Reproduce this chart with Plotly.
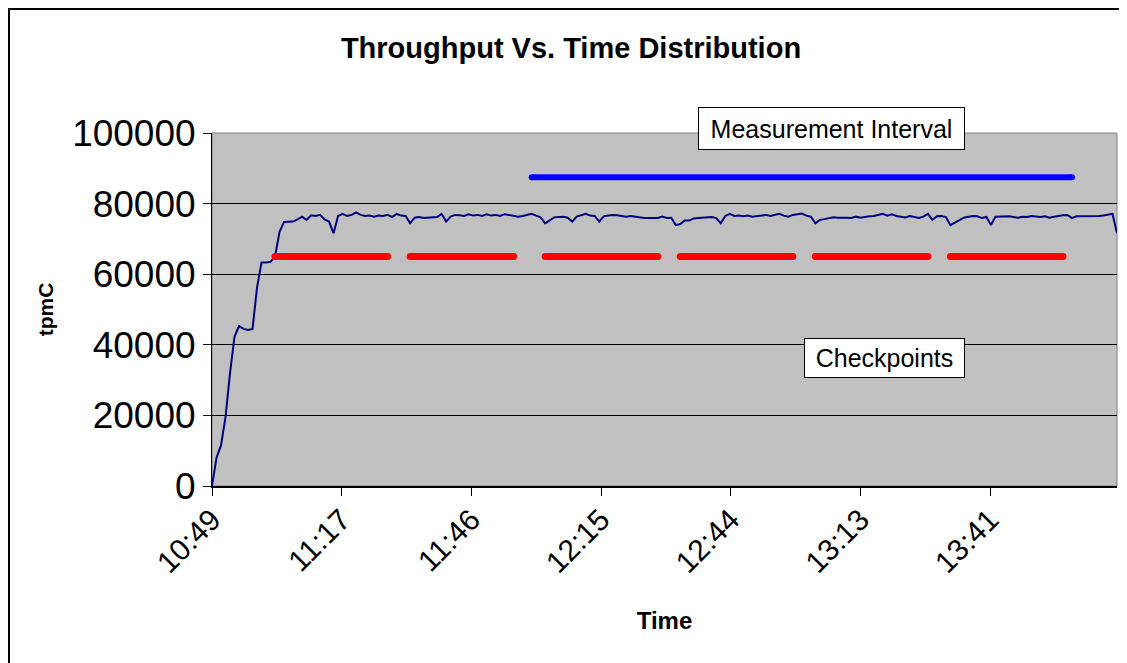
import datetime as dt
import plotly.graph_objects as go

# ---------------- data ----------------
start_time = "10:49"
# tpmC sampled every minute from 10:49
tpmc = [
    0, 8000, 11500, 19500, 32000, 42300, 45300, 44500, 44200, 44500,
    56200, 63300, 63300, 63500, 65000, 72000, 74800, 74900, 74900, 75500,
    76300, 75400, 76700, 76500, 76800, 75500, 74900, 71600, 76500, 77100,
    76500, 76800, 77500, 76800, 76500, 76600, 76300, 76600, 76500, 76800,
    76200, 77100, 76600, 76500, 74400, 76000, 76200, 75900, 76000, 75900,
    76200, 77100, 74900, 76300, 76800, 76700, 76500, 77000, 76600, 76800,
    76500, 77000, 76600, 76800, 76500, 77000, 76800, 76500, 76300, 76500,
    76800, 77100, 76600, 76100, 74400, 75200, 76100, 76200, 76300, 76000,
    74900, 76300, 76800, 77100, 76600, 76500, 74900, 76400, 76600, 76800,
    76700, 76400, 76300, 76500, 76300, 75900, 75900, 75900, 75900, 75900,
    76300, 75900, 76000, 73900, 74200, 75200, 75200, 75800, 75900, 76000,
    76300, 76200, 75900, 74400, 76500, 77100, 76500, 76600, 76400, 76600,
    76300, 76400, 76700, 76800, 76500, 76700, 77100, 76600, 76300, 76800,
    77100, 77200, 76600, 76300, 74400, 75400, 75600, 75900, 76100, 76000,
    76100, 76000, 75900, 76300, 76000, 76300, 76400, 76500, 76800, 77100,
    76600, 77000, 76500, 76300, 76100, 76500, 76200, 75900, 76300, 77100,
    75400, 76400, 76500, 76200, 73900, 74600, 75400, 76000, 76300, 76500,
    76400, 75900, 76200, 73900, 76300, 76400, 76500, 76400, 76200, 76000,
    76300, 76200, 76500, 76300, 76200, 76400, 76000, 76300, 76600, 76700,
    76800, 75900, 76400, 76400, 76500, 76400, 76300, 76500, 76600, 76800,
    77100, 71600,
]

measurement_interval = ("12:00", "14:00")
measurement_level = 87500

checkpoints = [
    ("11:03", "11:28"), ("11:33", "11:56"), ("12:03", "12:28"),
    ("12:33", "12:58"), ("13:03", "13:28"), ("13:33", "13:58"),
]
checkpoint_level = 65000

x_tick_labels = ["10:49", "11:17", "11:46", "12:15", "12:44", "13:13", "13:41"]
x_tick_step_min = 28.8
x_span_min = 201
y_ticks = [0, 20000, 40000, 60000, 80000, 100000]

# ---------------- helpers ----------------
day = dt.date(2000, 1, 1)


def t(hhmm):
    h, m = map(int, hhmm.split(":"))
    return dt.datetime.combine(day, dt.time(h, m))


t0 = t(start_time)
times = [t0 + dt.timedelta(minutes=i) for i in range(len(tpmc))]
tickvals = [t0 + dt.timedelta(minutes=k * x_tick_step_min) for k in range(len(x_tick_labels))]

FONT = "Liberation Sans, Arial, sans-serif"

fig = go.Figure()

fig.add_trace(go.Scatter(
    x=times, y=tpmc, mode="lines",
    line=dict(color="#000080", width=2), showlegend=False, hoverinfo="skip",
))

fig.add_trace(go.Scatter(
    x=[t(measurement_interval[0]), t(measurement_interval[1])],
    y=[measurement_level, measurement_level],
    mode="lines+markers",
    line=dict(color="#0000FF", width=6),
    marker=dict(color="#0000FF", size=6),
    showlegend=False, hoverinfo="skip",
))

cx, cy = [], []
for a, b in checkpoints:
    cx += [t(a), t(b), None]
    cy += [checkpoint_level, checkpoint_level, None]
fig.add_trace(go.Scatter(
    x=cx, y=cy, mode="lines+markers",
    line=dict(color="#FF0000", width=7),
    marker=dict(color="#FF0000", size=7),
    showlegend=False, hoverinfo="skip",
))

# page body has an 8px margin: work in screen coordinates, offset by 8
OFF = 8
SW, SH = 1127, 663
W, H = SW - OFF, SH - OFF
PL, PR, PT, PB = 212, 1117, 133, 486  # plot area in screen px
L, R, T, B = PL - OFF, W - (PR - OFF), PT - OFF, H - (PB - OFF)
pw, ph = W - L - R, H - T - B


def px(xs):
    return (xs - PL) / pw


def py(ys):
    return (PB - ys) / ph


fig.update_layout(
    width=W, height=H,
    margin=dict(l=L, r=R, t=T, b=B),
    paper_bgcolor="white",
    plot_bgcolor="#C0C0C0",
    font=dict(family=FONT, color="black"),
    title=dict(
        text="<b>Throughput Vs. Time Distribution</b>",
        x=(571 - OFF) / W, xanchor="center", xref="container",
        y=1 - (48 - OFF) / H, yanchor="middle", yref="container",
        font=dict(size=29, family=FONT, color="black"),
    ),
    xaxis=dict(
        type="date",
        range=[t0, t0 + dt.timedelta(minutes=x_span_min)],
        tickvals=tickvals, ticktext=x_tick_labels,
        tickangle=-45,
        tickfont=dict(size=30, family=FONT),
        ticks="outside", ticklen=8, tickcolor="black", tickwidth=1,
        ticklabelstandoff=-6,
        showline=True, linecolor="black", linewidth=2,
        showgrid=False, zeroline=False,
        title=dict(text="<b>Time</b>", font=dict(size=24, family=FONT), standoff=34),
    ),
    yaxis=dict(
        range=[0, 100000],
        tickvals=y_ticks, ticktext=[str(v) for v in y_ticks],
        tickfont=dict(size=37, family=FONT),
        ticks="outside", ticklen=8, tickcolor="black", tickwidth=1,
        showline=True, linecolor="black", linewidth=1,
        showgrid=True, gridcolor="black", gridwidth=1,
        zeroline=False,
        title=dict(text="<b>tpmC</b>", font=dict(size=21, family=FONT), standoff=12),
    ),
    shapes=[
        dict(type="rect", xref="paper", yref="paper", x0=0, x1=1, y0=0, y1=1,
             line=dict(color="#808080", width=1), layer="below"),
        dict(type="rect", xref="paper", yref="paper",
             x0=px(9), x1=px(1140), y0=py(680), y1=py(9),
             line=dict(color="black", width=2), fillcolor="rgba(0,0,0,0)"),
    ],
    annotations=[
        dict(text="Measurement Interval", xref="paper", yref="paper",
             x=px(831.5), y=py(128.5), xanchor="center", yanchor="middle",
             showarrow=False, bgcolor="white", bordercolor="black", borderwidth=1,
             borderpad=0, width=265, height=41,
             font=dict(size=25, family=FONT, color="black")),
        dict(text="Checkpoints", xref="paper", yref="paper",
             x=px(884.5), y=py(358), xanchor="center", yanchor="middle",
             showarrow=False, bgcolor="white", bordercolor="black", borderwidth=1,
             borderpad=0, width=159, height=38,
             font=dict(size=25, family=FONT, color="black")),
    ],
)

fig.write_html("out.html")
